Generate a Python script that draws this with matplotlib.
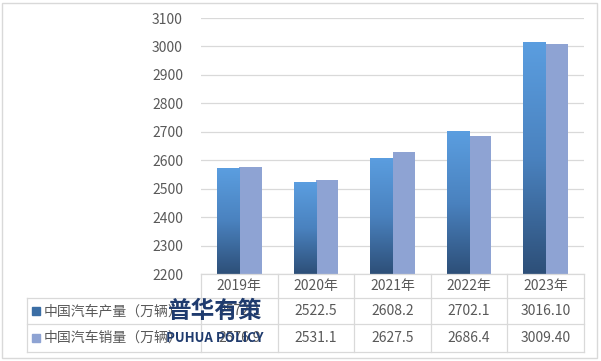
import matplotlib
matplotlib.use("Agg")
import matplotlib.pyplot as plt
import numpy as np
from matplotlib.patches import Rectangle
from matplotlib.colors import LinearSegmentedColormap

plt.rcParams['font.family'] = ['Noto Sans CJK SC', 'DejaVu Sans']

years = ['2019年', '2020年', '2021年', '2022年', '2023年']
production = [2572.1, 2522.5, 2608.2, 2702.1, 3016.10]
sales = [2576.9, 2531.1, 2627.5, 2686.4, 3009.40]
prod_labels = ['2572.1', '2522.5', '2608.2', '2702.1', '3016.10']
sales_labels = ['2576.9', '2531.1', '2627.5', '2686.4', '3009.40']
series_names = ['中国汽车产量（万辆）', '中国汽车销量（万辆）']
yticks = list(range(2200, 3101, 100))

W, H = 601, 361
fig = plt.figure(figsize=(W / 100, H / 100), dpi=100)
fig.patch.set_facecolor('white')

L, R, T, B = 201, 584, 18, 274
ax = fig.add_axes([L / W, 1 - B / H, (R - L) / W, (B - T) / H])
for s in ax.spines.values():
    s.set_visible(False)
ax.set_xticks([])
ax.set_yticks(yticks)
ax.tick_params(axis='y', length=0, pad=13, labelsize=10, labelcolor='#595959')
ax.yaxis.grid(True, color='#d9d9d9', linewidth=0.9)
ax.set_axisbelow(True)

grad = LinearSegmentedColormap.from_list('g', ['#2d4f78', '#4a82bf', '#5b9ee0'])
bw = 0.29
x = np.arange(len(years))
bars1 = ax.bar(x - bw / 2, production, bw, color='none', zorder=2)
bars2 = ax.bar(x + bw / 2, sales, bw, color='#8ea3d3', zorder=2)
gimg = np.linspace(0, 1, 256).reshape(-1, 1)
for b in bars1:
    x0, w, h = b.get_x(), b.get_width(), b.get_height()
    im = ax.imshow(gimg, cmap=grad, origin='lower', aspect='auto',
                   extent=[x0, x0 + w, 2200, h], zorder=2)
    im.set_clip_path(b)
ax.set_xlim(-0.5, len(years) - 0.5)
ax.set_ylim(2200, 3100)

def fx(px):
    return px / W

def fy(py):
    return 1 - py / H

lc = '#d9d9d9'
colx = [L + i * (R - L) / len(years) for i in range(len(years) + 1)]
rows = [274, 298, 324, 352]
tl = 27
def line(x0, y0, x1, y1):
    fig.add_artist(plt.Line2D([fx(x0), fx(x1)], [fy(y0), fy(y1)], color=lc, lw=0.9))
line(L, rows[0], R, rows[0])
for r in rows[1:]:
    line(tl, r, R, r)
line(tl, rows[1], tl, rows[3])
for cx in colx:
    line(cx, rows[0], cx, rows[3])

txtc = '#595959'
for i, y in enumerate(years):
    cx = (colx[i] + colx[i + 1]) / 2
    fig.text(fx(cx), fy((rows[0] + rows[1]) / 2), y, ha='center', va='center', fontsize=10, color=txtc)
    fig.text(fx(cx), fy((rows[1] + rows[2]) / 2), prod_labels[i], ha='center', va='center', fontsize=10, color=txtc)
    fig.text(fx(cx), fy((rows[2] + rows[3]) / 2), sales_labels[i], ha='center', va='center', fontsize=10, color=txtc)

keycols = ['#3b6ea5', '#8ea3d3']
for j, name in enumerate(series_names):
    yc = (rows[j + 1] + rows[j + 2]) / 2
    fig.add_artist(Rectangle((fx(32), fy(yc + 4)), fx(8), 8 / H, color=keycols[j]))
    fig.text(fx(44), fy(yc), name, ha='left', va='center', fontsize=10, color=txtc)

# watermark
fig.text(fx(215), fy(311), '普华有策', ha='center', va='center', fontsize=17,
         fontweight='bold', color='#1f3b6e', zorder=10)
fig.text(fx(215), fy(338), 'PUHUA POLICY', ha='center', va='center', fontsize=9.5,
         fontweight='bold', color='#1f3b6e', zorder=10)

fig.add_artist(Rectangle((fx(2), fy(358)), fx(595), 355 / H, fill=False, ec='#d9d9d9', lw=1))

fig.savefig('out.png', dpi=100)
